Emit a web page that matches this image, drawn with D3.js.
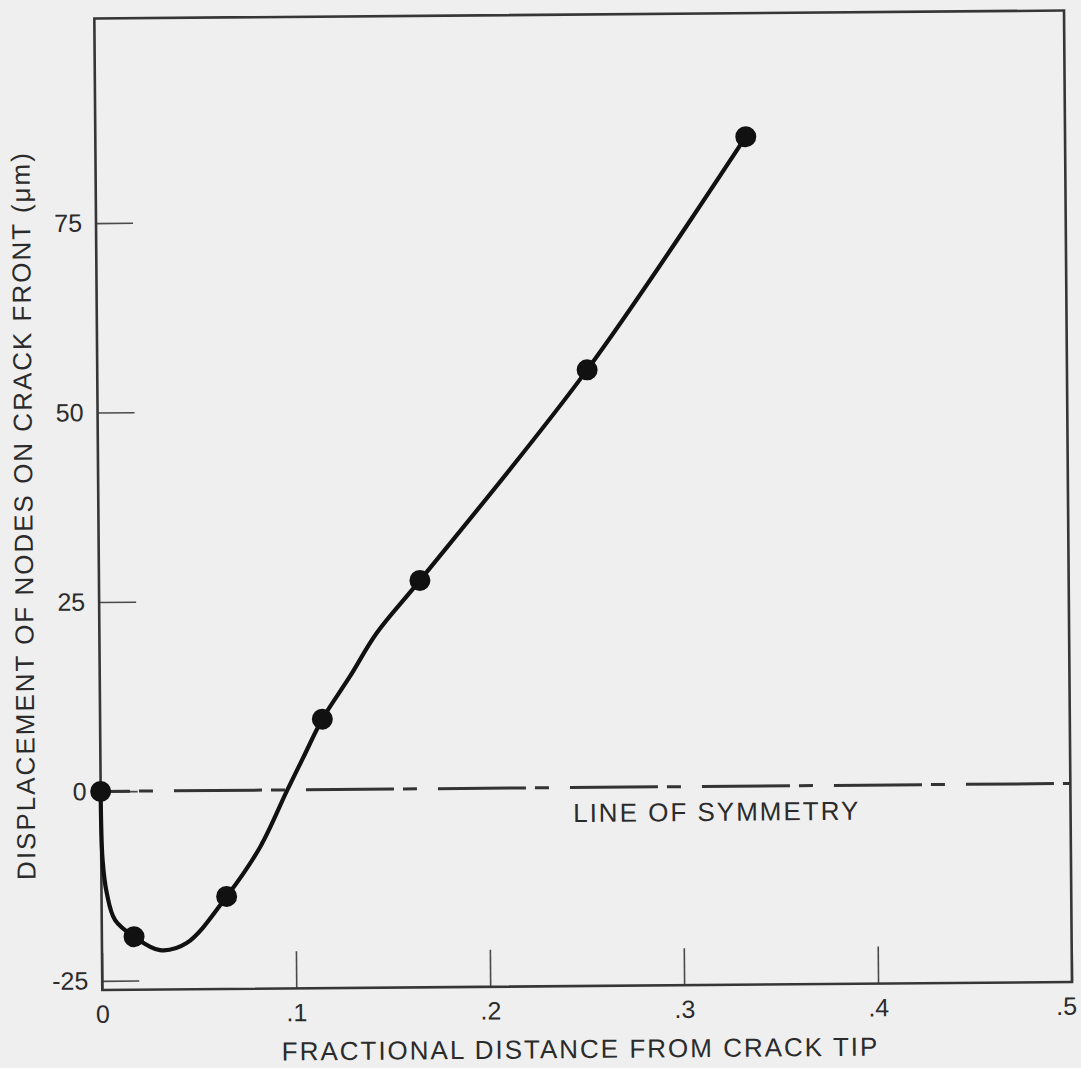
<!DOCTYPE html>
<html>
<head>
<meta charset="utf-8">
<script src="https://cdn.jsdelivr.net/npm/d3@7"></script>
<style>
  html, body { margin: 0; padding: 0; background: #efefef; }
  svg { display: block; }
  text { font-family: "Liberation Sans", Arial, Helvetica, sans-serif; fill: #2b2b2b; }
</style>
</head>
<body>
<svg id="chart" width="1081" height="1068"></svg>
<script>
// Computed node positions along the crack front
const nodeX = [0, 0.0166, 0.0645, 0.1146, 0.1655, 0.2526, 0.3354];
const nodeY = [0, -19.2, -14.0, 9.3, 27.5, 55.1, 85.7];

// Hand-faired curve through the nodes (as drawn on the plot)
const curveX = [0, 0.0007, 0.0027, 0.0069, 0.0166, 0.0299, 0.0437, 0.0645, 0.0820, 0.0959, 0.1045, 0.1146, 0.1290, 0.1430, 0.1655, 0.2526, 0.3354];
const curveY = [0, -9.05, -13.4, -17.0, -19.2, -21.0, -20.1, -14.0, -7.5, -0.2, 4.2, 9.3, 14.9, 20.6, 27.5, 55.1, 85.7];

// Axis ticks
const xTicks = [0, 0.1, 0.2, 0.3, 0.4, 0.5];
const yTicks = [-25, 0, 25, 50, 75];

// Plot extents
const xDomain = [0, 0.5];
const yDomain = [-26.2, 102];

const svg = d3.select("#chart");
svg.append("rect").attr("width", 1081).attr("height", 1068).attr("fill", "#efefef");

// whole sheet sits at a slight tilt
const g = svg.append("g").attr("transform", "rotate(-0.47, 583, 500)");

const x = d3.scaleLinear().domain(xDomain).range([98.3, 1068]);
const y = d3.scaleLinear().domain(yDomain).range([986, 14.5]);

// Axes with inward ticks
const yAxis = d3.axisLeft(y)
  .tickValues(yTicks)
  .tickSize(-37)
  .tickPadding(14)
  .tickFormat(d => String(d));
const xAxis = d3.axisBottom(x)
  .tickValues(xTicks)
  .tickSize(-37)
  .tickPadding(15)
  .tickFormat(d => d === 0 ? "0" : String(d).replace(/^0\./, "."));

const gy = g.append("g").attr("transform", `translate(${x(0)},0)`).call(yAxis);
const gx = g.append("g").attr("transform", `translate(0,${y(yDomain[0])})`).call(xAxis);
[gx, gy].forEach(a => {
  a.select(".domain").remove();
  a.selectAll(".tick line").attr("stroke", "#4a4a4a").attr("stroke-width", 1.6);
  a.selectAll(".tick text")
    .style("font-family", "'Liberation Sans', Arial, sans-serif")
    .attr("font-size", 25)
    .attr("fill", "#2b2b2b");
});
// last x label tucked inside the sheet edge
gx.selectAll(".tick text").filter(d => d === 0.5).attr("dx", -6);

// Frame
g.append("rect")
  .attr("x", x(xDomain[0]))
  .attr("y", y(yDomain[1]))
  .attr("width", x(xDomain[1]) - x(xDomain[0]))
  .attr("height", y(yDomain[0]) - y(yDomain[1]))
  .attr("fill", "none")
  .attr("stroke", "#363636")
  .attr("stroke-width", 2.6);

// Line of symmetry (long-short dashes)
g.append("line")
  .attr("x1", x(0)).attr("x2", x(0.5))
  .attr("y1", y(0)).attr("y2", y(0))
  .attr("stroke", "#333")
  .attr("stroke-width", 3)
  .attr("stroke-dasharray", "88,9,14,21")
  .attr("stroke-dashoffset", 58.7);

g.append("text")
  .attr("x", x(0.2435))
  .attr("y", y(-4.55))
  .attr("font-size", 26)
  .attr("letter-spacing", 2)
  .text("LINE OF SYMMETRY");

// Faired displacement curve
const curvePts = curveX.map((v, i) => [v, curveY[i]]);
g.append("path")
  .datum(curvePts)
  .attr("fill", "none")
  .attr("stroke", "#111")
  .attr("stroke-width", 4.2)
  .attr("stroke-linejoin", "round")
  .attr("d", d3.line().x(d => x(d[0])).y(d => y(d[1])).curve(d3.curveCatmullRom.alpha(0.5)));

// Node markers
g.selectAll("circle.node")
  .data(nodeX.map((v, i) => [v, nodeY[i]]))
  .join("circle")
  .attr("class", "node")
  .attr("cx", d => x(d[0]))
  .attr("cy", d => y(d[1]))
  .attr("r", 10.5)
  .attr("fill", "#111");

// Axis titles
g.append("text")
  .attr("x", 576)
  .attr("y", 1058)
  .attr("text-anchor", "middle")
  .attr("font-size", 26)
  .attr("letter-spacing", 2)
  .text("FRACTIONAL DISTANCE FROM CRACK TIP");

g.append("text")
  .attr("transform", "translate(23,511) rotate(-90)")
  .attr("text-anchor", "middle")
  .attr("dy", "0.36em")
  .attr("font-size", 26)
  .attr("letter-spacing", 2)
  .text("DISPLACEMENT OF NODES ON CRACK FRONT (\u03BCm)");
</script>
</body>
</html>
